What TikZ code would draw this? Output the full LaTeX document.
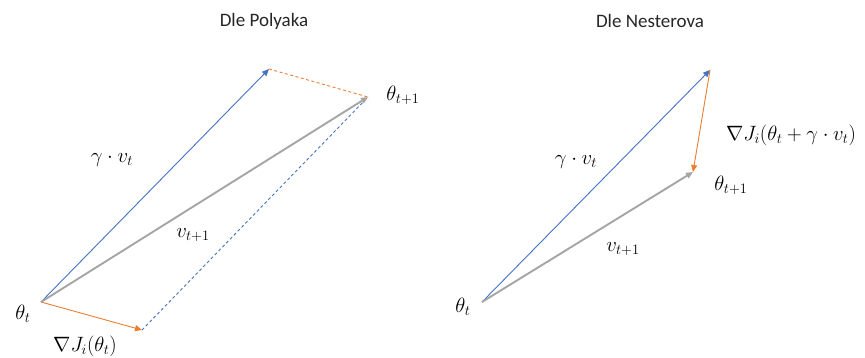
\documentclass[tikz,border=0pt]{standalone}
\usepackage{fontspec}
\setsansfont{Carlito}
\DeclareMathSizes{20}{20}{15}{11}
\DeclareMathSizes{21}{21}{15.5}{11.5}
\usetikzlibrary{arrows.meta}
\definecolor{oblue}{RGB}{68,114,196}
\definecolor{oorange}{RGB}{237,125,49}
\definecolor{ogray}{RGB}{165,165,165}
\definecolor{otext}{RGB}{38,38,38}
\begin{document}
\begin{tikzpicture}[x=1pt,y=-1pt,
  vec/.style={-{Triangle[length=7pt,width=6pt]}},
  bluevec/.style={vec,oblue,line width=0.9pt},
  orangevec/.style={vec,oorange,line width=0.9pt},
  grayvec/.style={vec,ogray,line width=1.9pt},
  bluedash/.style={oblue,line width=0.9pt,dash pattern=on 3pt off 2.5pt},
  orangedash/.style={oorange,line width=0.9pt,dash pattern=on 3pt off 2.5pt},
  lbl/.style={inner sep=0pt,font=\fontsize{20}{24}\selectfont},
  biglbl/.style={inner sep=0pt,font=\fontsize{21}{25}\selectfont},
  ttl/.style={inner sep=0pt,text=otext,font=\sffamily\fontsize{19}{23}\selectfont}]
\useasboundingbox (0,0) rectangle (865,358);
% titles
\node[ttl] (t1) at (264,21) {Dle Polyaka};
\node[ttl] (t2) at (650,21) {Dle Nesterova};
% left: Polyak
\coordinate (A0) at (41,302);
\coordinate (A1) at (269,69);
\coordinate (A2) at (142,330);
\coordinate (A3) at (368,97);
\draw[orangedash] (A1) -- (A3);
\draw[bluedash] (A2) -- (A3);
\draw[bluevec] (A0) -- (A1);
\draw[orangevec] (A0) -- (A2);
\draw[grayvec] (A0) -- (A3);
\node[lbl] (la) at (23,314) {$\theta_t$};
\node[lbl] (lb) at (112,160) {$\gamma\cdot v_t$};
\node[lbl] (lc) at (193,235) {$v_{t+1}$};
\node[lbl] (ld) at (403,95) {$\theta_{t+1}$};
\node[lbl] (le) at (85,346) {$\nabla J_i(\theta_t)$};
% right: Nesterov
\coordinate (B0) at (482,302);
\coordinate (B1) at (710,70);
\coordinate (B2) at (693,172);
\draw[bluevec] (B0) -- (B1);
\draw[orangevec] (B1) -- (B2);
\draw[grayvec] (B0) -- (B2);
\node[lbl] (ra) at (463,307) {$\theta_t$};
\node[lbl] (rb) at (576,162) {$\gamma\cdot v_t$};
\node[lbl] (rc) at (623,249) {$v_{t+1}$};
\node[lbl] (rd) at (731,185) {$\theta_{t+1}$};
\node[biglbl] (re) at (791,135) {$\nabla J_i(\theta_t+\gamma\cdot v_t)$};
\end{tikzpicture}
\end{document}
